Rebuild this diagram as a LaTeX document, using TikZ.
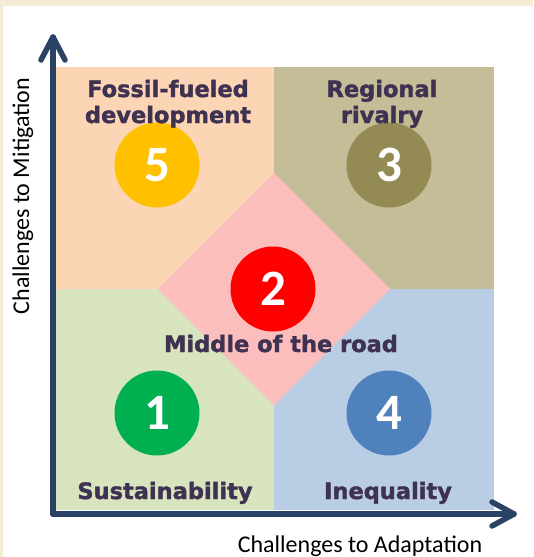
\documentclass[tikz,border=0pt]{standalone}
\usepackage{fontspec}
\newfontfamily\titlefont{DejaVu Sans}[BoldFeatures={FakeBold=1.6}]
\newfontfamily\calib{Carlito}
\definecolor{parch}{HTML}{F4ECD6}
\definecolor{qtl}{HTML}{FCD5B5}
\definecolor{qtr}{HTML}{C4BD97}
\definecolor{qbl}{HTML}{D7E4BD}
\definecolor{qbr}{HTML}{B9CDE5}
\definecolor{qmid}{HTML}{FBBEBD}
\definecolor{cfive}{HTML}{FFC000}
\definecolor{cthree}{HTML}{948A54}
\definecolor{ctwo}{HTML}{FF0000}
\definecolor{cone}{HTML}{00B050}
\definecolor{cfour}{HTML}{4F81BD}
\definecolor{ttl}{HTML}{3F3151}
\definecolor{axisc}{HTML}{2A4264}
\tikzset{
  ttlbox/.style={text=ttl, inner sep=0pt, font=\titlefont\bfseries\fontsize{22.5}{26}\selectfont, align=center},
  numdot/.style={circle, fill=#1, minimum size=85pt, inner sep=0pt, text=white, font=\calib\bfseries\fontsize{51}{51}\selectfont},
  axisline/.style={draw=axisc, line width=5.5pt, line cap=round, line join=round},
  axlabel/.style={inner sep=0pt, font=\calib\fontsize{24}{26}\selectfont}
}
\begin{document}
\begin{tikzpicture}[x=1pt, y=-1pt]
\useasboundingbox (0,0) rectangle (533,557);
\fill[white] (0,0) rectangle (533,557);
\fill[parch] (0,0) rectangle (533,6);
\fill[parch] (0,0) rectangle (3,557);
% quadrants
\fill[qtl] (56,67) rectangle (274,289);
\fill[qtr] (274,67) rectangle (494,289);
\fill[qbl] (56,289) rectangle (274,510);
\fill[qbr] (274,289) rectangle (494,510);
\fill[qmid] (274,173) -- (390,289) -- (274,405) -- (158,289) -- cycle;
% circles
\node[numdot=cfive] (n5) at (157,165) {5};
\node[numdot=cthree] (n3) at (389,165) {3};
\node[numdot=ctwo] (n2) at (273,289) {2};
\node[numdot=cone] (n1) at (157,413) {1};
\node[numdot=cfour] (n4) at (389,413) {4};
% titles (base anchor = baseline of last line)
\node[ttlbox, anchor=base] (t5) at (168,123) {Fossil-fueled\\development};
\node[ttlbox, anchor=base] (t3) at (382,123) {Regional\\rivalry};
\node[ttlbox, anchor=base] (t2) at (281,352) {Middle of the road};
\node[ttlbox, anchor=base] (t1) at (165,499) {Sustainability};
\node[ttlbox, anchor=base] (t4) at (388,499) {Inequality};
% axes
\coordinate (origin) at (53,514);
\coordinate (ytip) at (53,37);
\coordinate (xtip) at (514,514);
\draw[axisline] (origin) -- (ytip);
\draw[axisline] (origin) -- (xtip);
\draw[axisline] ([shift={(-12,23)}]ytip) -- (ytip) -- ([shift={(12,23)}]ytip);
\draw[axisline] ([shift={(-22,-12)}]xtip) -- (xtip) -- ([shift={(-22,12)}]xtip);
% axis labels
\node[axlabel, anchor=base, rotate=90] (ylab) at (29,196) {Challenges to Mitigation};
\node[axlabel, anchor=base] (xlab) at (360,552) {Challenges to Adaptation};
\end{tikzpicture}
\end{document}
